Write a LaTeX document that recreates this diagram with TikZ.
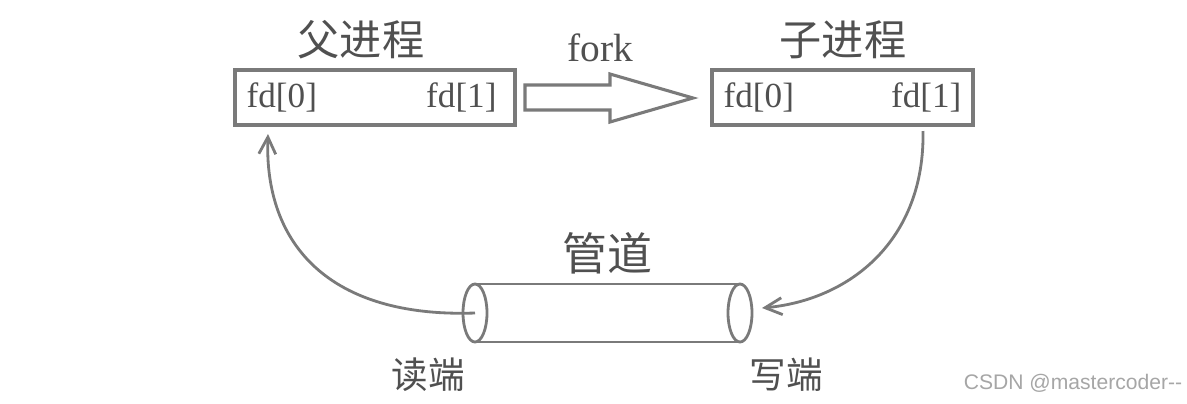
\documentclass[tikz,border=0pt]{standalone}
\usepackage{fontspec}
\usepackage{tikz}
\usetikzlibrary{positioning,arrows.meta,calc}
\setmainfont{Liberation Serif}
\newfontfamily\cjk{Noto Sans CJK SC}
\newfontfamily\wmfont{Liberation Sans}
\definecolor{linegray}{HTML}{7A7A7A}
\definecolor{textgray}{HTML}{505050}

\begin{document}
\begin{tikzpicture}[
  x=0.025cm, y=-0.025cm,
  proc/.style={draw=linegray, line width=2.5pt, minimum width=7cm, minimum height=1.375cm, fill=white},
  fdlbl/.style={text=textgray, font=\fontsize{25}{30}\selectfont, inner sep=0pt},
  title/.style={text=textgray, font=\cjk\fontsize{30}{34}\selectfont},
  endlbl/.style={text=textgray, font=\cjk\fontsize{26}{30}\selectfont},
  link/.style={draw=linegray, line width=2pt, -{Straight Barb[length=12pt, width=12pt, line width=2pt]}},
  pipe/.style={draw=linegray, line width=2pt}]
  \useasboundingbox (0,0) rectangle (1187,403);
  % processes
  \node[proc] (parent) at (375,97.5) {};
  \node[proc, minimum width=6.525cm] (child) at (842.5,97.5) {};
  \node[title] (ptitle) at (361,40) {父进程};
  \node[title] (ctitle) at (843,40) {子进程};
  \node[fdlbl, anchor=west] (p0) at ([xshift=0.33cm]parent.west) {fd[0]};
  \node[fdlbl, anchor=east] (p1) at ([xshift=-0.5cm]parent.east) {fd[1]};
  \node[fdlbl, anchor=west] (c0) at ([xshift=0.33cm]child.west) {fd[0]};
  \node[fdlbl, anchor=east] (c1) at ([xshift=-0.33cm]child.east) {fd[1]};
  % fork
  \draw[draw=linegray, line width=2.2pt, fill=white]
    (525,85) -- (610,85) -- (610,74) -- (693,98) -- (610,122) -- (610,110) -- (525,110) -- cycle;
  \node[text=textgray, font=\fontsize{28}{32}\selectfont] (fork) at (600,48) {fork};
  % pipe
  \coordinate (rd) at (475,313);
  \coordinate (wr) at (740,313);
  \fill[white] (475,284) rectangle (740,342);
  \draw[pipe] (475,284) -- (740,284);
  \draw[pipe] (475,342) -- (740,342);
  \draw[pipe, fill=white] (rd) ellipse[x radius=12, y radius=29];
  \draw[pipe, fill=white] (wr) ellipse[x radius=12, y radius=29];
  \node[title, font=\cjk\fontsize{32}{36}\selectfont] (pname) at (607,253) {管道};
  \node[endlbl] (rdlbl) at (428,375) {读端};
  \node[endlbl] (wrlbl) at (786,375) {写端};
  % read / write
  \coordinate (pin) at (268,134);
  \coordinate (cout) at (923,131);
  \draw[link] (rd) .. controls (330,318) and (264,245) .. (pin);
  \draw[link] (cout) .. controls (925,240) and (850,300) .. (762,308);
  \node[text=black!35, font=\wmfont\fontsize{15}{17}\selectfont] (wm) at (1073,383) {CSDN @mastercoder--};
\end{tikzpicture}
\end{document}
